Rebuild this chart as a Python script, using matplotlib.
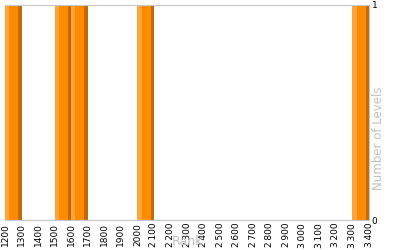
import matplotlib
matplotlib.use("Agg")
import matplotlib.pyplot as plt

# histogram bins (left edge of each 100-wide rank bucket) and counts
bin_starts = [1200, 1500, 1600, 2000, 3300]
counts = [1, 1, 1, 1, 1]
bin_width = 100
tick_values = list(range(1200, 3401, 100))
tick_labels = [str(t) if t <= 2000 else str(t)[0] + "\u2009" + str(t)[1:] for t in tick_values]

fig = plt.figure(figsize=(4, 2.5), dpi=100)
ax = fig.add_axes([5 / 400, 30 / 250, 364 / 400, 215 / 250])

ax.bar(bin_starts, counts, width=bin_width, align="edge", color="#ff8c00", linewidth=0)
ax.bar(bin_starts, counts, width=bin_width * 0.25, align="edge", color="#ffa43c", linewidth=0)
ax.bar([b + bin_width * 0.8 for b in bin_starts], counts, width=bin_width * 0.2,
       align="edge", color="#c46a00", linewidth=0)

ax.set_xlim(1200, 3400)
ax.set_ylim(0, 1)
ax.set_xticks(tick_values)
ax.set_xticklabels(tick_labels, rotation=90, fontsize=6.5)
ax.set_yticks([0, 1])
ax.set_yticklabels(["0", "1"], fontsize=6.5)
ax.yaxis.tick_right()
ax.tick_params(length=0, pad=2)

for side in ["top", "bottom", "right", "left"]:
    ax.spines[side].set_color("#c8c8c8")
ax.spines["left"].set_visible(False)

ax.set_xlabel("Rank", color="#c0c0c0", fontsize=9, labelpad=-9)
ax.set_ylabel("Number of Levels", color="#c0c0c0", fontsize=8.5)
ax.yaxis.set_label_coords(1.044, 0.38)

fig.savefig("out.png", dpi=100)
